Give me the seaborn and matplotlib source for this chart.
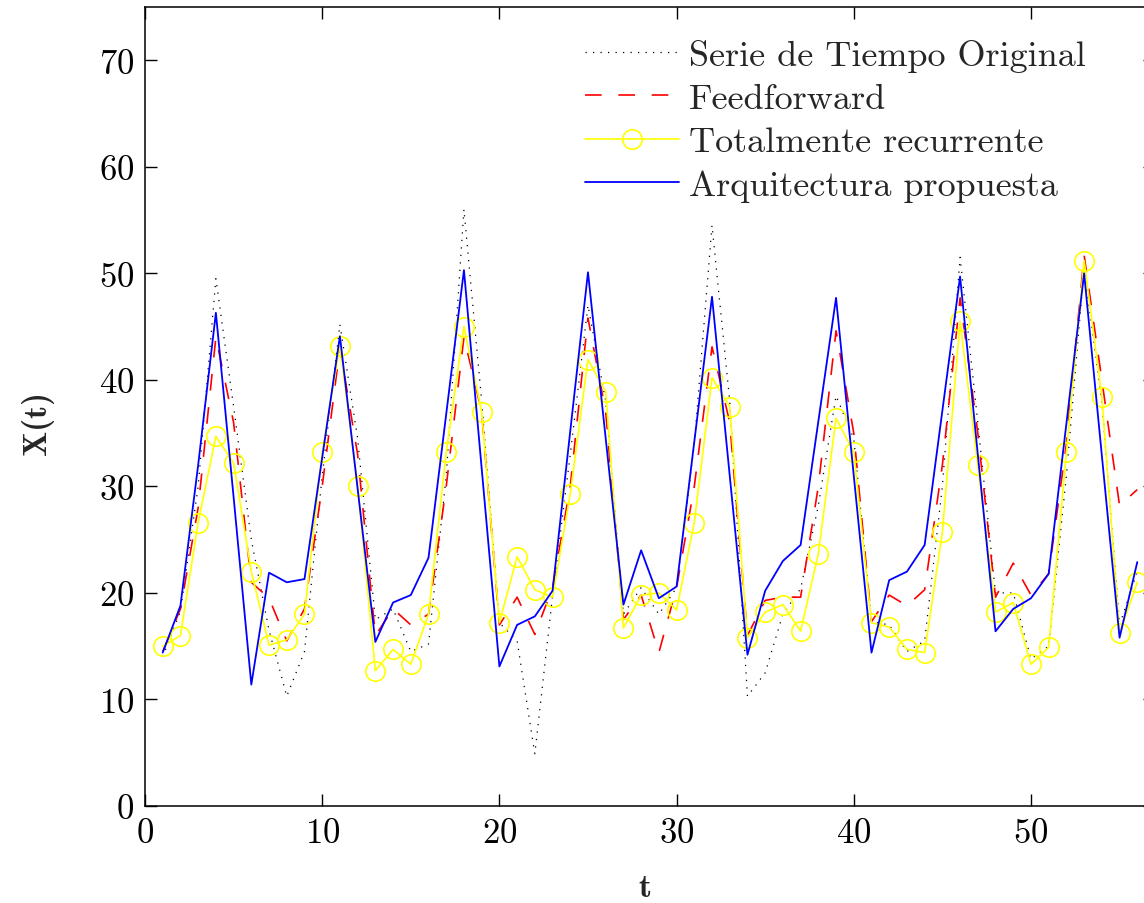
import matplotlib
matplotlib.use("Agg")
import pandas as pd
import matplotlib.pyplot as plt
import seaborn as sns

# --- data ---
t = list(range(1, 57))

original = [14.0, 18.3, 30.0, 49.5, 37.5, 25.0, 16.5, 10.3, 14.5, 31.0,
            45.2, 34.5, 17.5, 18.5, 14.5, 15.2, 31.0, 56.0, 38.0, 17.2,
            15.5, 4.9, 19.7, 33.0, 47.0, 38.0, 18.0, 20.5, 18.0, 20.5,
            34.0, 54.5, 38.0, 10.3, 12.5, 18.0, 20.4, 28.2, 38.5, 34.5,
            17.3, 17.0, 14.5, 15.5, 30.0, 51.5, 36.0, 20.0, 20.0, 13.8,
            15.0, 31.0, 50.5, 38.0, 17.0, 22.0]

feedforward = [14.5, 18.5, 28.0, 44.0, 36.0, 21.0, 19.5, 15.5, 18.5, 30.0,
               43.0, 33.0, 16.0, 18.5, 17.0, 18.0, 30.0, 44.0, 37.0, 17.0,
               19.6, 16.1, 20.5, 30.0, 45.8, 37.0, 17.5, 19.8, 14.4, 20.5,
               30.0, 43.1, 36.0, 16.0, 19.3, 19.6, 19.6, 30.0, 44.6, 35.0,
               17.3, 19.8, 18.8, 20.3, 32.0, 47.7, 35.0, 19.6, 22.8, 19.8,
               21.8, 34.0, 51.7, 40.0, 28.2, 29.7]

recurrente = [15.0, 16.0, 26.6, 34.7, 32.2, 22.0, 15.1, 15.6, 18.0, 33.2,
              43.2, 30.0, 12.7, 14.7, 13.3, 18.0, 33.2, 45.0, 37.0, 17.2,
              23.4, 20.3, 19.6, 29.3, 41.9, 38.9, 16.7, 19.8, 20.0, 18.4,
              26.6, 40.2, 37.5, 15.8, 18.2, 18.9, 16.4, 23.7, 36.4, 33.2,
              17.2, 16.8, 14.7, 14.4, 25.7, 45.5, 32.0, 18.2, 19.1, 13.3,
              14.9, 33.2, 51.2, 38.4, 16.2, 21.0]

propuesta = [14.4, 18.8, 32.0, 46.3, 29.0, 11.4, 21.9, 21.0, 21.3, 32.7,
             44.1, 29.8, 15.4, 19.1, 19.8, 23.3, 36.8, 50.3, 31.7, 13.1,
             17.0, 17.8, 20.2, 35.2, 50.1, 34.5, 18.9, 24.0, 19.5, 20.6,
             34.2, 47.8, 31.0, 14.2, 20.2, 23.0, 24.5, 36.1, 47.7, 31.0,
             14.4, 21.2, 22.0, 24.5, 37.1, 49.7, 33.0, 16.4, 18.5, 19.5,
             21.8, 35.9, 50.0, 32.9, 15.8, 22.9]

df = pd.DataFrame({"t": t, "original": original, "feedforward": feedforward,
                   "recurrente": recurrente, "propuesta": propuesta})

# --- style: MATLAB / LaTeX look ---
sns.set_style("ticks")
plt.rcParams['font.family'] = ['cmr10', 'DejaVu Serif']
plt.rcParams['axes.formatter.use_mathtext'] = True
plt.rcParams['axes.linewidth'] = 1.1

fig = plt.figure(figsize=(11.44, 9.04), dpi=100)
ax = fig.add_axes([145 / 1144, 1 - 807 / 904, 1010 / 1144, 799 / 904])

sns.lineplot(data=df, x="t", y="original", ax=ax, color="black", lw=0.9,
             linestyle=(0, (1, 5)), errorbar=None, label="Serie de Tiempo Original")
sns.lineplot(data=df, x="t", y="feedforward", ax=ax, color="red", lw=1.2,
             linestyle=(0, (10, 10)), errorbar=None, label="Feedforward")
sns.lineplot(data=df, x="t", y="recurrente", ax=ax, color="yellow", lw=1.2,
             marker="o", markersize=14, markerfacecolor="none",
             markeredgecolor="yellow", markeredgewidth=1.2,
             errorbar=None, label="Totalmente recurrente")
sns.lineplot(data=df, x="t", y="propuesta", ax=ax, color="blue", lw=1.3,
             errorbar=None, label="Arquitectura propuesta")

ax.set_xlim(0, 57)
ax.set_ylim(0, 75)
ax.set_xticks([0, 10, 20, 30, 40, 50])
ax.set_yticks([0, 10, 20, 30, 40, 50, 60, 70])
ax.tick_params(direction="in", top=True, right=True, length=8.6, width=1.0,
               labelsize=25, pad=8, colors="black")
for s in ax.spines.values():
    s.set_visible(True)
    s.set_color("black")

ax.set_xlabel("t", fontsize=24, family=["cmb10", "DejaVu Serif"])
ax.set_ylabel("X(t)", fontsize=24, family=["cmb10", "DejaVu Serif"])
ax.xaxis.set_label_coords(0.495, -0.084)
ax.yaxis.set_label_coords(-0.090, 0.48)

ax.legend(loc="upper left", bbox_to_anchor=(0.436, 0.96), frameon=False,
          fontsize=26, handlelength=2.6, handletextpad=0.28,
          labelspacing=0.3, borderpad=0, borderaxespad=0)

fig.savefig("out.png", dpi=100)
